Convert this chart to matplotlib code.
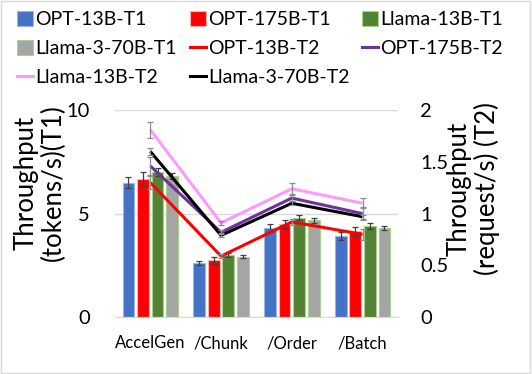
import matplotlib
matplotlib.use("Agg")
import matplotlib.pyplot as plt
import numpy as np
from matplotlib.patches import Patch, Rectangle
from matplotlib.lines import Line2D

plt.rcParams['font.family'] = ['Lato', 'DejaVu Sans']

categories = ['AccelGen', '/Chunk', '/Order', '/Batch']

# T1 bars (tokens/s), left axis
opt13_t1 = [6.5, 2.6, 4.3, 3.9]
opt175_t1 = [6.65, 2.75, 4.5, 4.15]
llama13_t1 = [7.0, 3.0, 4.8, 4.4]
llama70_t1 = [6.8, 2.93, 4.67, 4.3]
opt13_t1_err = [0.27, 0.1, 0.19, 0.19]
opt175_t1_err = [0.34, 0.16, 0.19, 0.22]
llama13_t1_err = [0.19, 0.11, 0.13, 0.13]
llama70_t1_err = [0.14, 0.08, 0.1, 0.1]

# T2 lines (request/s), right axis
opt13_t2 = [1.3, 0.59, 0.92, 0.8]
opt175_t2 = [1.46, 0.82, 1.15, 1.0]
llama13_t2 = [1.81, 0.91, 1.24, 1.1]
llama70_t2 = [1.6, 0.79, 1.1, 0.97]
opt13_t2_err = [0.06, 0.02, 0.03, 0.05]
opt175_t2_err = [0.09, 0.02, 0.03, 0.06]
llama13_t2_err = [0.077, 0.022, 0.055, 0.048]
llama70_t2_err = [0.03, 0.02, 0.02, 0.02]

left_ticks = [0, 5, 10]
right_ticks = [0, 0.5, 1, 1.5, 2]
right_tick_labels = ['0', '0.5', '1', '1.5', '2']

W, H = 532, 374
fig = plt.figure(figsize=(W / 100, H / 100), dpi=100)
fig.patches.append(Rectangle((0.002, 0.003), 0.995, 0.994, transform=fig.transFigure,
                             fill=False, edgecolor='#d9d9d9', linewidth=1.0))
ax = fig.add_axes([0.216, 0.1516, 0.532, 0.5544])
x = np.arange(len(categories))

bar_series = [
    ('OPT-13B-T1', opt13_t1, opt13_t1_err, '#4472C4', '#9db5e3'),
    ('OPT-175B-T1', opt175_t1, opt175_t1_err, '#FF0000', '#ffb0b0'),
    ('Llama-13B-T1', llama13_t1, llama13_t1_err, '#548235', '#a9d18e'),
    ('Llama-3-70B-T1', llama70_t1, llama70_t1_err, '#A5A5A5', '#a9d18e'),
]
step = 0.206
width = 0.165
handles = {}
for i, (name, vals, errs, col, ecol) in enumerate(bar_series):
    off = (i - 1.5) * step
    ax.bar(x + off, vals, width, color=col, edgecolor=ecol, linewidth=0.8, zorder=2)
    ax.errorbar(x + off, vals, yerr=errs, fmt='none', ecolor='#404040',
                elinewidth=0.9, capsize=2.2, capthick=0.9, zorder=3)
    handles[name] = Patch(facecolor=col, edgecolor=ecol, linewidth=0.8)

ax.set_xlim(-0.5, 3.5)
ax.set_ylim(0, 10)
ax.set_yticks(left_ticks)
ax.yaxis.grid(True, color='#d9d9d9', linewidth=1.0, zorder=0)
ax.set_axisbelow(True)
for s in ['top', 'left', 'right']:
    ax.spines[s].set_visible(False)
ax.spines['bottom'].set_color('#d9d9d9')
ax.set_xticks(x)
ax.set_xticklabels(categories)
ax.tick_params(axis='x', length=0, pad=13, labelsize=12)
ax.tick_params(axis='y', length=0, pad=18, labelsize=14.5)

ax2 = ax.twinx()
line_series = [
    ('OPT-13B-T2', opt13_t2, opt13_t2_err, '#FF0000'),
    ('OPT-175B-T2', opt175_t2, opt175_t2_err, '#7030A0'),
    ('Llama-13B-T2', llama13_t2, llama13_t2_err, '#FF99FF'),
    ('Llama-3-70B-T2', llama70_t2, llama70_t2_err, '#000000'),
]
for name, vals, errs, col in line_series:
    ax2.plot(x, vals, color=col, linewidth=2.2, zorder=4, solid_capstyle='butt')
    ax2.errorbar(x, vals, yerr=errs, fmt='none', ecolor='#8c8c8c',
                 elinewidth=0.9, capsize=2.2, capthick=0.9, zorder=5)
    handles[name] = Line2D([0], [0], color=col, linewidth=2.2)
ax2.set_ylim(0, 2)
ax2.set_yticks(right_ticks)
ax2.set_yticklabels(right_tick_labels)
for s in ['top', 'left', 'right', 'bottom']:
    ax2.spines[s].set_visible(False)
ax2.tick_params(axis='y', length=0, pad=16, labelsize=14.5)

fig.text(40 / W, 1 - 183 / H, 'Throughput\n(tokens/s)(T1)', rotation=90, ha='center', va='center',
         fontsize=18.5, linespacing=1.1)
fig.text(473 / W, 1 - 189 / H, 'Throughput\n(request/s) (T2)', rotation=90, ha='center', va='center',
         fontsize=18.5, linespacing=1.1)

legend_columns = [
    (['OPT-13B-T1', 'Llama-3-70B-T1', 'Llama-13B-T2'], 17),
    (['OPT-175B-T1', 'OPT-13B-T2', 'Llama-3-70B-T2'], 190),
    (['Llama-13B-T1', 'OPT-175B-T2'], 362),
]
for names, xpix in legend_columns:
    fig.legend([handles[n] for n in names], names, ncol=1, loc='upper left',
               bbox_to_anchor=(xpix / W, 1 - 11 / H), frameon=False, fontsize=14,
               handlelength=0.8, handleheight=0.8, handletextpad=0.12,
               labelspacing=0.6, borderaxespad=0.0, borderpad=0.0)

fig.savefig('out.png', dpi=100)
